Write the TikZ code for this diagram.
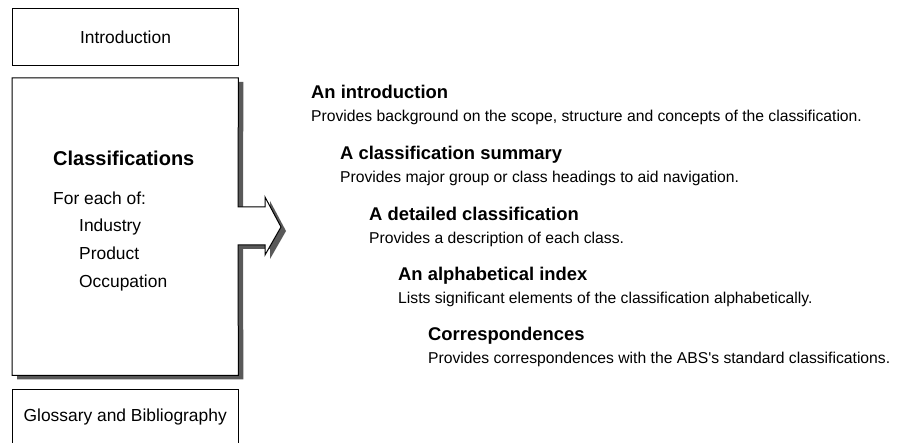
\documentclass[tikz,border=0pt]{standalone}
\usepackage{fontspec}
\setmainfont{Liberation Sans}
\usepackage{tikz}
\usetikzlibrary{calc}
\usetikzlibrary{positioning}

\begin{document}
\begin{tikzpicture}[x=1pt,y=-1pt,
		part/.style={inner sep=0pt,minimum width=226pt,anchor=north west,font=\fontsize{17.4}{20}\selectfont},
		txt/.style={anchor=base west,inner sep=0pt,font=\fontsize{17.4}{20}\selectfont},
		head/.style={anchor=base west,inner sep=0pt,font=\fontsize{18.4}{22}\selectfont\bfseries},
		desc/.style={anchor=base west,inner sep=0pt,font=\fontsize{15.7}{18}\selectfont}]
		\useasboundingbox (0,0) rectangle (897,443);

		% left column
		\node [part,draw,line width=1pt,minimum height=57pt] (intro) at (12,8) {Introduction};
		\node [part,minimum height=297pt] (class) at (12,78) {};
		\node [part,minimum height=53pt] (glos) at (12,390) {Glossary and Bibliography};
			\draw [line width=1pt] (glos.south west) -- (glos.north west) -- (glos.north east) -- (glos.south east);

		\coordinate (shafttop) at (238,207);
		\coordinate (shaftbot) at (238,245);
		\coordinate (tip) at (281,227);

		\draw [line width=1pt,fill=white,preaction={fill=black!65,transform canvas={xshift=5pt,yshift=-4pt}}]
			(class.north west) -- (class.north east) -- (shafttop) -- ++(27,0) -- ++(0,-10) -- (tip)
			-- ($(shaftbot)+(27,10)$) -- ++(0,-10) -- (shaftbot) -- (class.south east) -- (class.south west) -- cycle;

		\node [txt,font=\fontsize{20}{24}\selectfont\bfseries] (ctitle) at (53,166) {Classifications};
		\node [txt] (foreach) at (53,205) {For each of:};
		\node [txt] (ind) at (79,232) {Industry};
		\node [txt] (prod) at (79,260) {Product};
		\node [txt] (occ) at (79,288) {Occupation};

		% right column
		\node [head] (ihead) at (311,99) {An introduction};
		\node [desc] (idesc) at (311,122) {Provides background on the scope, structure and concepts of the classification.};
		\node [head] (shead) at (340,160) {A classification summary};
		\node [desc] (sdesc) at (340,183) {Provides major group or class headings to aid navigation.};
		\node [head] (dhead) at (369,221) {A detailed classification};
		\node [desc] (ddesc) at (369,244) {Provides a description of each class.};
		\node [head] (ahead) at (398,281) {An alphabetical index};
		\node [desc] (adesc) at (398,304) {Lists significant elements of the classification alphabetically.};
		\node [head] (chead) at (428,341) {Correspondences};
		\node [desc] (cdesc) at (428,364) {Provides correspondences with the ABS\textquotesingle s standard classifications.};
	\end{tikzpicture}
\end{document}
